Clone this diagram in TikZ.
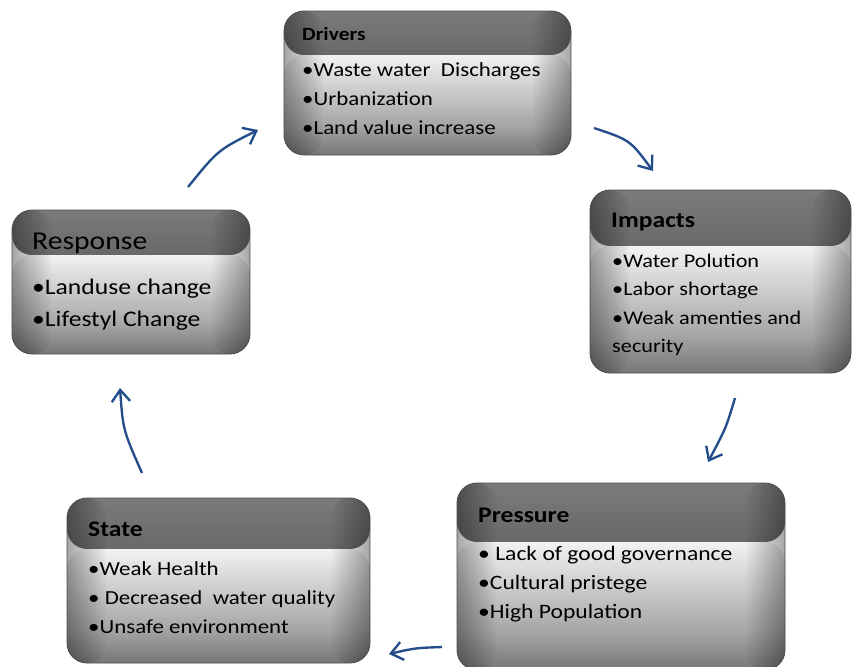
\documentclass[tikz,border=0pt]{standalone}
\usepackage{fontspec}
\setmainfont{Carlito}[FakeStretch=1.15]
\usetikzlibrary{arrows.meta,fadings}

\newcommand{\pxu}{0.3mm}
\definecolor{flowblue}{RGB}{35,76,138}
\definecolor{hdtop}{HTML}{9A9A9A}
\definecolor{hdbot}{HTML}{121212}

\pgfdeclareverticalshading{headshade}{100bp}{color(0bp)=(hdbot); color(12bp)=(black!80); color(75bp)=(black!52); color(100bp)=(hdtop)}
\pgfdeclareverticalshading{bodyshade}{100bp}{color(0bp)=(black!50); color(7bp)=(black!76); color(40bp)=(black!35); color(75bp)=(black!5); color(93bp)=(white); color(100bp)=(black!12)}
\tikzfading[name=edgefadeL, left color=transparent!65, right color=transparent!100]
\tikzfading[name=edgefadeR, left color=transparent!100, right color=transparent!65]

\tikzset{
  panel/.style n args={3}{draw=black!70, line width=0.7pt, rounded corners=6mm,
    minimum width=#1*\pxu, minimum height=#2*\pxu, inner sep=0pt,
    path picture={
      \shade[shading=headshade] (path picture bounding box.north west)
        rectangle ([yshift=-#3*\pxu]path picture bounding box.north east);
      \shade[shading=bodyshade] ([yshift=-#3*\pxu]path picture bounding box.north west)
        rectangle (path picture bounding box.south east);
      \fill[black, path fading=edgefadeL] (path picture bounding box.north west)
        rectangle ([xshift=12mm]path picture bounding box.south west);
      \fill[black, path fading=edgefadeR] ([xshift=-12mm]path picture bounding box.north east)
        rectangle (path picture bounding box.south east);
    }},
  ttl/.style={anchor=west, inner sep=0pt},
  lst/.style={anchor=west, inner sep=0pt, align=left},
  flow/.style={draw=flowblue, line width=2pt, -{Straight Barb[length=3.5mm,width=5.5mm]}}
}

\begin{document}
\begin{tikzpicture}[x=\pxu, y=-\pxu]
  \useasboundingbox (0,0) rectangle (852,666);

  % Drivers
  \node[panel={287}{144}{44}] (drivers) at (427.5,83) {};
  \node[ttl, font=\bfseries\fontsize{16}{19}\selectfont] (drivers-t) at (302,34) {Drivers};
  \node[lst, font=\fontsize{17}{24.75}\selectfont] (drivers-l) at (302,99)
    {\textbullet Waste water\ \ Discharges\\\textbullet Urbanization\\\textbullet Land value increase};

  % Impacts
  \node[panel={261}{183}{56}] (impacts) at (720.5,281.5) {};
  \node[ttl, font=\bfseries\fontsize{19}{22}\selectfont] (impacts-t) at (611,222) {Impacts};
  \node[lst, font=\fontsize{16.5}{24.3}\selectfont] (impacts-l) at (612,305)
    {\textbullet Water Polution\\\textbullet Labor shortage\\\textbullet Weak amenties and\\security};

  % Pressure
  \node[panel={328}{187}{59}] (pressure) at (621,576.5) {};
  \node[ttl, font=\bfseries\fontsize{19}{22}\selectfont] (pressure-t) at (478,515) {Pressure};
  \node[lst, font=\fontsize{17.5}{24.75}\selectfont] (pressure-l) at (478,584)
    {\textbullet\ Lack of good governance\\\textbullet Cultural pristege\\\textbullet High Population};

  % State
  \node[panel={303}{165}{51}] (state) at (218.5,580.5) {};
  \node[ttl, font=\bfseries\fontsize{19}{22}\selectfont] (state-t) at (88,529) {State};
  \node[lst, font=\fontsize{17}{24.75}\selectfont] (state-l) at (88,598)
    {\textbullet Weak Health\\\textbullet\ Decreased\ \ water quality\\\textbullet Unsafe environment};

  % Response
  \node[panel={238}{144}{45}] (response) at (131,282) {};
  \node[ttl, font=\fontsize{22}{26}\selectfont] (response-t) at (32,243) {Response};
  \node[lst, font=\fontsize{19}{27.3}\selectfont] (response-l) at (32,305)
    {\textbullet Landuse change\\\textbullet Lifestyl Change};

  % arrows round the cycle
  \coordinate (r2d-a) at (188,187);  \coordinate (r2d-b) at (258,130);
  \coordinate (d2i-a) at (594,128);  \coordinate (d2i-b) at (653,171);
  \coordinate (i2p-a) at (735,398);  \coordinate (i2p-b) at (708,462);
  \coordinate (p2s-a) at (442,647);  \coordinate (p2s-b) at (389,654);
  \coordinate (s2r-a) at (142,473);  \coordinate (s2r-b) at (120,388);

  \draw[flow] (r2d-a) .. controls (218,150) .. (r2d-b);
  \draw[flow] (d2i-a) .. controls (630,140) .. (d2i-b);
  \draw[flow] (i2p-a) .. controls (726,428) .. (i2p-b);
  \draw[flow] (p2s-a) .. controls (415,648) .. (p2s-b);
  \draw[flow] (s2r-a) .. controls (123,430) .. (s2r-b);
\end{tikzpicture}
\end{document}
